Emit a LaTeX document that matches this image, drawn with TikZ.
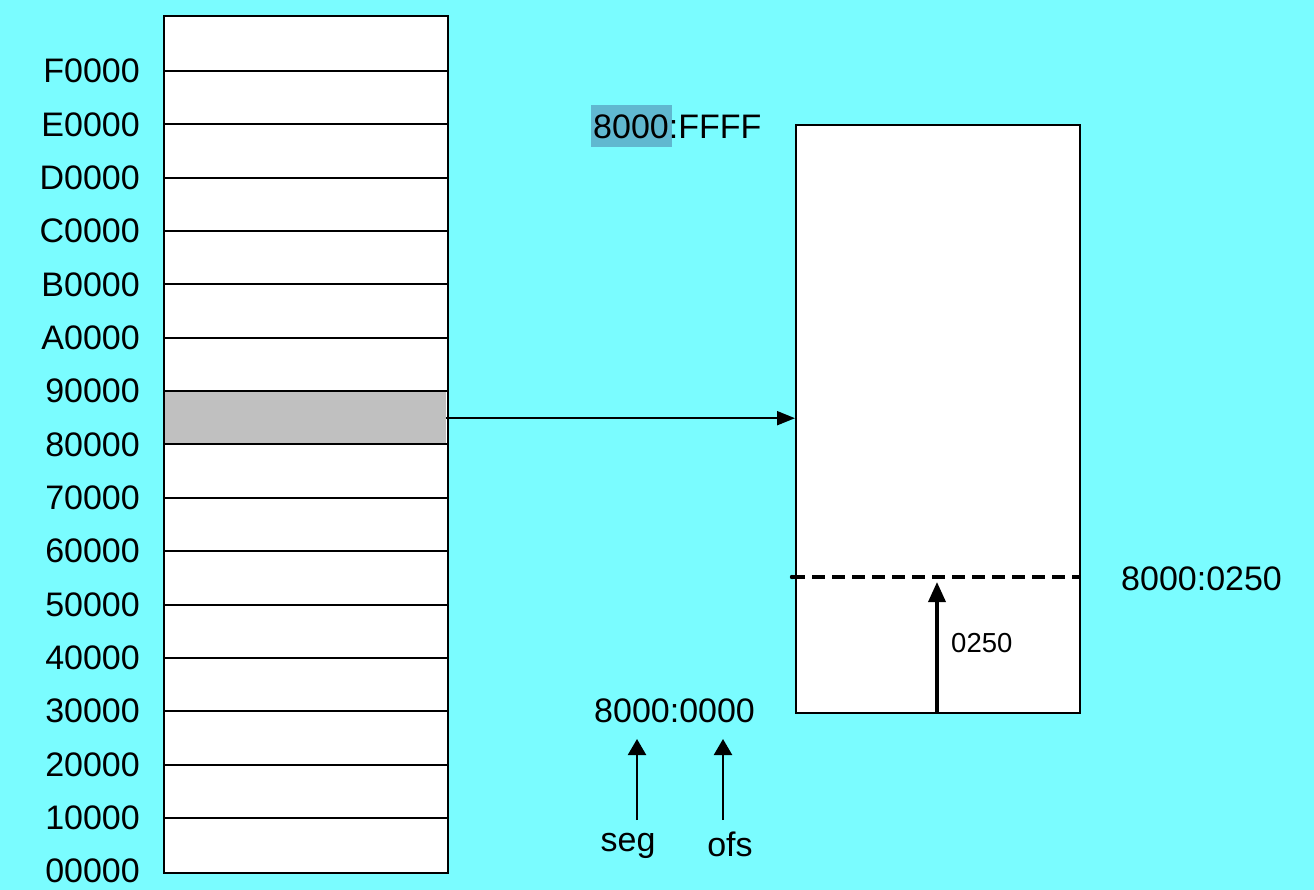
\documentclass[tikz,border=0pt]{standalone}
\usepackage{fontspec}
\setmainfont{Liberation Sans}
\usetikzlibrary{arrows.meta,calc}
\definecolor{bgcyan}{RGB}{122,252,255}
\definecolor{hilite}{RGB}{96,184,208}
\definecolor{bandgray}{RGB}{192,192,192}
\begin{document}
\begin{tikzpicture}[x=1pt,y=-1pt,
  addr/.style={anchor=east,inner sep=0pt,font=\fontsize{34}{38}\selectfont},
  lbl/.style={inner sep=0pt,font=\fontsize{34}{38}\selectfont},
  smalllbl/.style={inner sep=0pt,font=\fontsize{27.5}{32}\selectfont},
  membox/.style={draw,line width=2pt,fill=white,inner sep=0pt,anchor=north west},
  rowline/.style={line width=2pt},
  bigarrow/.style={line width=2pt,-{Triangle[length=18pt,width=14pt]}},
  ptrarrow/.style={line width=2.2pt,-{Triangle[length=16pt,width=18pt]}},
  ofsarrow/.style={line width=3.5pt,-{Triangle[length=20pt,width=17pt]}},
  boundary/.style={line width=3.5pt,dash pattern=on 13pt off 7pt}
]
% background
\fill[bgcyan] (0,0) rectangle (1314,890);
\useasboundingbox (0,0) rectangle (1314,890);

% physical memory column
\node[membox,draw=none,minimum width=282pt,minimum height=855pt] (mem) at (164,16) {};
\node[fill=bandgray,inner sep=0pt,anchor=north west,minimum width=282pt,minimum height=54pt] (band) at (164,391) {};
\foreach \i/\name in {0/F0000,1/E0000,2/D0000,3/C0000,4/B0000,5/A0000,6/90000,7/80000,
                      8/70000,9/60000,10/50000,11/40000,12/30000,13/20000,14/10000,15/00000}{
  \pgfmathsetmacro{\yy}{71+53.35*\i}
  \ifnum\i<15
    \draw[rowline] (mem.west |- 0,\yy) -- (mem.east |- 0,\yy);
  \fi
  \node[addr] (a\i) at (140,\yy) {\name};
}
\draw[rowline] (mem.north west) rectangle (mem.south east);

% one segment, enlarged
\node[membox,minimum width=284pt,minimum height=588pt] (win) at (795,124) {};
\draw[bigarrow] (band.east) -- (band.east -| win.west);

% segment limits
\node[fill=hilite,inner sep=0pt,anchor=north west,minimum width=81pt,minimum height=42pt] (hl) at (591,105) {};
\node[lbl,anchor=west] (top) at (593,127) {8000:FFFF};
\node[lbl,anchor=west] (base) at (594,711) {8000:0000};

% offset inside the segment
\coordinate (dl) at (792,577);
\coordinate (dr) at (1079,577);
\draw[boundary] (dl) -- (dr);
\fill (dl) circle (2.2pt);
\coordinate (obase) at (937,712);
\coordinate (otip) at (937,582);
\draw[ofsarrow] (obase) -- (otip);
\node[smalllbl,anchor=west] (ofsval) at (951,643) {0250};
\node[lbl,anchor=west] (addr) at (1121,579) {8000:0250};

% seg / ofs pointers
\coordinate (segfoot) at (637,820);
\coordinate (segtip) at (637,739);
\coordinate (ofsfoot) at (723,820);
\coordinate (ofstip) at (723,739);
\draw[ptrarrow] (segfoot) -- (segtip);
\draw[ptrarrow] (ofsfoot) -- (ofstip);
\node[lbl,anchor=base] (seg) at (628,851) {seg};
\node[lbl,anchor=base] (ofs) at (730,856) {ofs};
\end{tikzpicture}
\end{document}
